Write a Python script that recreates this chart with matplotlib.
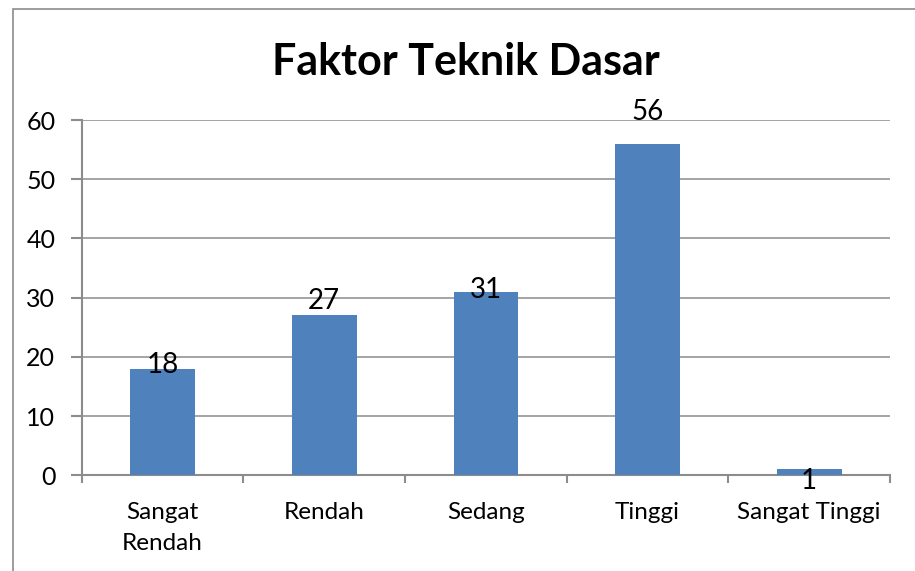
import matplotlib.pyplot as plt
import matplotlib.patches as patches
from matplotlib.ticker import MultipleLocator, FixedLocator

categories = ["Sangat\nRendah", "Rendah", "Sedang", "Tinggi", "Sangat Tinggi"]
counts = [18, 27, 31, 56, 1]
title = "Faktor Teknik Dasar"

# label offsets (points) from bar top, as placed in the original
label_offsets = [3, 10.5, 1.5, 22.5, -8.5]

plt.rcParams['font.family'] = ['Lato', 'DejaVu Sans']

fig = plt.figure(figsize=(9.15, 5.71), dpi=100)
ax = fig.add_axes([81.7 / 915, (571 - 475.3) / 571, (890 - 81.7) / 915, (475.3 - 120) / 571])

grey = "#8c8c8c"
xs = list(range(len(categories)))
bars = ax.bar(xs, counts, width=0.4, color="#4f81bd", zorder=3)

for b, v, off in zip(bars, counts, label_offsets):
    ax.annotate(str(v), (b.get_x() + b.get_width() / 2, v), xytext=(0, off),
                textcoords="offset points", ha="center", va="center",
                fontsize=20, color="black", zorder=4)

ax.set_xlim(-0.5, len(categories) - 0.5)
ax.set_ylim(0, 60)
ax.yaxis.set_major_locator(MultipleLocator(10))
ax.set_xticks(xs)
ax.set_xticklabels(categories, fontsize=17.5, linespacing=1.6)
ax.xaxis.set_minor_locator(FixedLocator([i - 0.5 for i in range(len(categories) + 1)]))
ax.tick_params(axis="x", which="major", length=0, pad=19)
ax.tick_params(axis="x", which="minor", length=6, width=1.5, color=grey, direction="out")
ax.tick_params(axis="y", length=8, width=1.5, color=grey, labelsize=18, pad=11)

ax.grid(axis="y", color=grey, linewidth=1.1, zorder=0)
for s in ["top", "right"]:
    ax.spines[s].set_visible(False)
for s in ["left", "bottom"]:
    ax.spines[s].set_color(grey)
    ax.spines[s].set_linewidth(1.5)
    ax.spines[s].set_zorder(2)

fig.text(466 / 915, (571 - 75) / 571, title, ha="center", va="baseline",
         fontsize=31, fontweight="bold")

border = patches.Rectangle((12.5 / 915, -0.1), 1.2, (571 - 8.5) / 571 + 0.1,
                           transform=fig.transFigure, fill=False, edgecolor=grey,
                           linewidth=1.2, clip_on=False)
fig.patches.append(border)

fig.savefig("out.png", dpi=100)
